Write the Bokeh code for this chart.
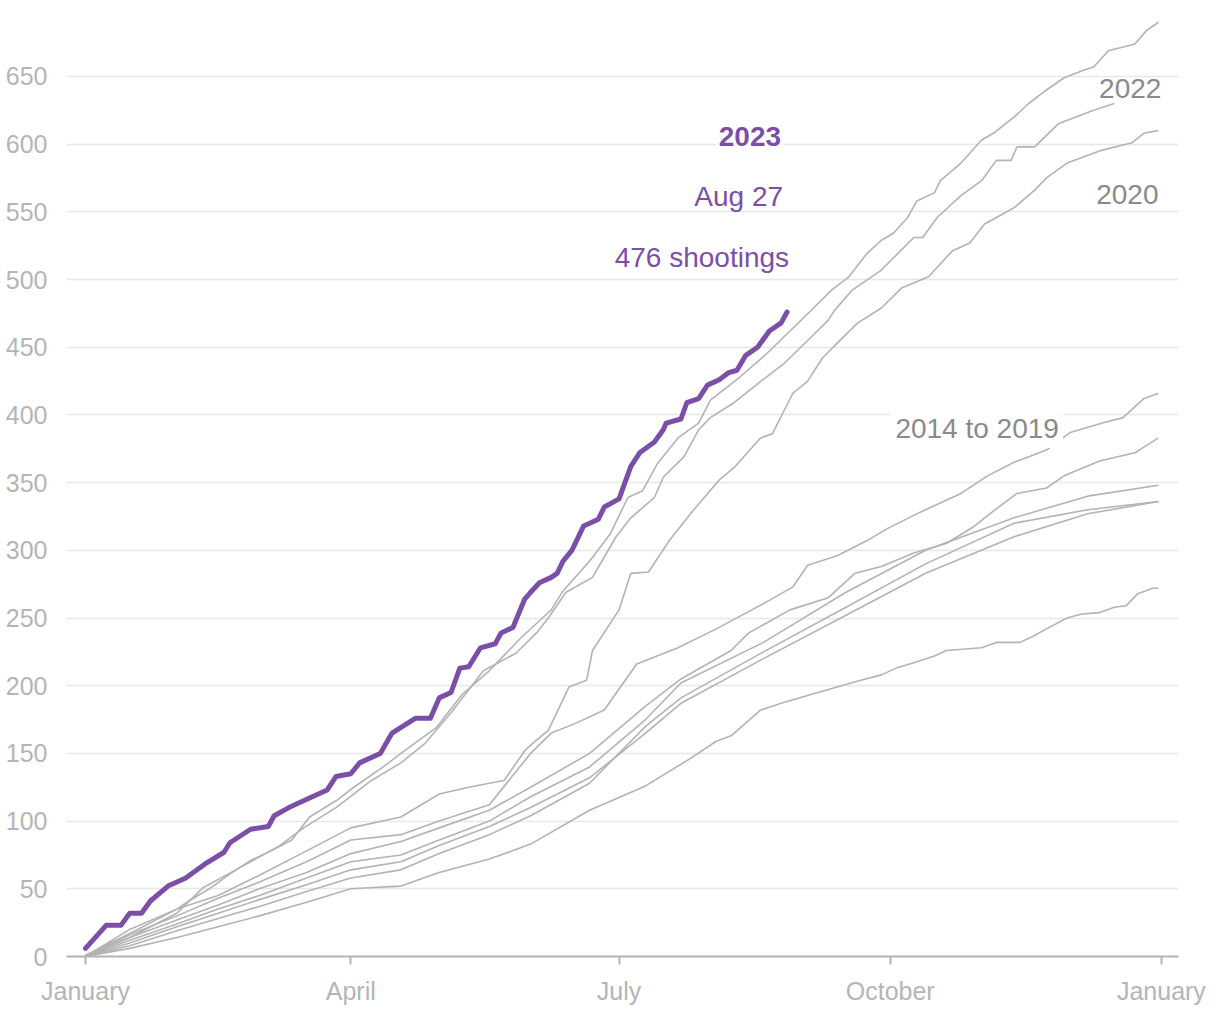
from bokeh.plotting import figure
from bokeh.models import Range1d, FixedTicker, Label
from bokeh.embed import file_html
from bokeh.resources import INLINE

# ---------------- data (day of year, cumulative mass shootings) ----------------
days_2023 = [0, 7, 12, 15, 19, 22, 28, 34, 41, 47, 49, 56, 62, 64, 69, 76, 82, 85, 90, 93, 100, 104, 112, 117, 120,
             124, 127, 130, 134, 139, 141, 145, 149, 151, 154, 158, 160, 162, 165, 169, 174, 176, 181, 185, 188,
             193, 196, 197, 202, 204, 208, 211, 215, 218, 221, 224, 228, 232, 236, 238]
vals_2023 = [6, 23, 23, 32, 32, 41, 52, 58, 69, 77, 84, 94, 96, 104, 110, 117, 123, 133, 135, 143, 150, 165, 176, 176, 191,
             195, 213, 214, 228, 231, 239, 243, 264, 269, 276, 280, 283, 292, 300, 318, 323, 332, 338, 362, 372,
             380, 389, 394, 397, 409, 412, 422, 426, 431, 433, 444, 450, 462, 468, 476]

days_2021 = [0, 15, 31, 35, 42, 49, 56, 63, 70, 76, 85, 91, 101, 107, 119, 128, 137, 148, 154, 158, 162, 171, 178, 184,
             189, 194, 201, 208, 212, 222, 231, 239, 247, 253, 259, 265, 270, 274, 279, 282, 288, 290, 297, 304, 308,
             315, 320, 326, 332, 339, 342, 347, 356, 360, 364]
vals_2021 = [1, 17, 35, 41, 50, 61, 71, 78, 86, 103, 115, 125, 140, 150, 169, 194, 211, 236, 248, 256, 270, 292, 312, 339,
             344, 364, 383, 394, 411, 428, 445, 462, 479, 492, 502, 519, 529, 534, 546, 558, 564, 573, 586, 603, 608,
             620, 630, 640, 649, 655, 657, 669, 674, 684, 690]

days_2022 = [0, 15, 31, 40, 51, 66, 74, 85, 97, 107, 115, 124, 135, 146, 153, 157, 163, 172, 180, 185, 193, 196, 203,
             208, 212, 220, 228, 237, 245, 252, 254, 260, 270, 281, 284, 289, 297, 304, 309, 314, 316, 322, 330, 342, 349]
vals_2022 = [1, 14, 32, 51, 64, 82, 95, 110, 130, 143, 157, 180, 211, 224, 239, 250, 269, 280, 310, 324, 339, 354, 369,
             389, 398, 409, 423, 438, 455, 470, 477, 492, 507, 531, 531, 546, 562, 573, 588, 588, 598, 598, 615, 625, 630]

days_2020 = [0, 15, 31, 45, 59, 75, 90, 107, 120, 130, 142, 149, 152, 157, 164, 170, 172, 181, 185, 191, 198, 206, 215,
             220, 229, 233, 240, 245, 250, 255, 262, 270, 277, 286, 294, 300, 305, 315, 322, 326, 333, 344, 355, 359, 364]
vals_2020 = [0, 20, 35, 45, 60, 78, 95, 103, 120, 125, 130, 152, 158, 167, 199, 204, 226, 256, 283, 284, 307, 329, 352,
             361, 383, 386, 416, 425, 442, 453, 468, 479, 494, 502, 521, 527, 541, 553, 566, 575, 586, 595, 601, 608, 610]

days_2019 = [0, 15, 31, 45, 59, 75, 90, 107, 120, 137, 151, 158, 166, 176, 187, 201, 214, 232, 240, 245, 255, 265, 272,
             283, 297, 306, 315, 326, 334, 345, 352, 359, 364]
vals_2019 = [0, 16, 30, 43, 55, 70, 86, 90, 100, 112, 150, 165, 172, 182, 216, 228, 242, 263, 273, 289, 296, 307, 316,
             328, 342, 355, 365, 374, 387, 394, 398, 412, 416]

days_2018 = [0, 15, 31, 45, 59, 75, 90, 107, 120, 137, 151, 171, 190, 202, 230, 258, 285, 315, 340, 364]
vals_2018 = [0, 10, 22, 32, 42, 53, 64, 70, 82, 96, 110, 132, 165, 187, 220, 252, 283, 310, 327, 336]

days_2017 = [0, 15, 31, 45, 59, 75, 90, 107, 120, 137, 151, 171, 190, 202, 230, 258, 285, 315, 340, 364]
vals_2017 = [0, 12, 24, 35, 45, 58, 70, 75, 86, 100, 118, 140, 175, 202, 232, 269, 300, 324, 340, 348]

days_2016 = [0, 15, 31, 45, 59, 75, 90, 107, 120, 137, 151, 171, 190, 202, 219, 225, 239, 252, 261, 270, 281, 292, 301,
             308, 316, 326, 332, 344, 356, 364]
vals_2016 = [0, 14, 27, 38, 50, 62, 76, 85, 95, 108, 125, 150, 185, 205, 226, 239, 256, 265, 283, 288, 298, 305, 317,
             329, 342, 346, 355, 366, 372, 383]

days_2015 = [0, 15, 31, 45, 59, 75, 90, 107, 120, 137, 151, 171, 190, 202, 230, 258, 285, 315, 340, 364]
vals_2015 = [0, 8, 19, 28, 37, 48, 58, 64, 76, 90, 104, 128, 170, 191, 225, 258, 290, 320, 330, 336]

days_2014 = [0, 15, 31, 45, 59, 75, 90, 107, 120, 137, 151, 171, 190, 205, 214, 219, 229, 236, 247, 255, 263, 270, 275,
             281, 288, 292, 304, 309, 317, 321, 326, 333, 338, 344, 349, 353, 357, 362, 364]
vals_2014 = [0, 6, 14, 22, 30, 40, 50, 52, 62, 72, 83, 108, 126, 146, 159, 163, 182, 187, 194, 199, 204, 208, 213,
             217, 222, 226, 228, 232, 232, 236, 242, 250, 253, 254, 258, 259, 268, 272, 272]

gray_years = {
    "2014": (days_2014, vals_2014), "2015": (days_2015, vals_2015), "2016": (days_2016, vals_2016),
    "2017": (days_2017, vals_2017), "2018": (days_2018, vals_2018), "2019": (days_2019, vals_2019),
    "2020": (days_2020, vals_2020), "2021": (days_2021, vals_2021), "2022": (days_2022, vals_2022),
}

month_ticks = [0, 90, 181, 273, 365]
month_labels = ["January", "April", "July", "October", "January"]
y_ticks = list(range(0, 651, 50))

PURPLE = "#7b4fa8"
GRAY_LINE = "#b3b3b3"
GRAY_TEXT = "#8a8a8a"
TICK_TEXT = "#b5b5b5"
FONT = "Liberation Sans"

p = figure(width=1212, height=1012, x_range=Range1d(-6.45, 370.8), y_range=Range1d(0, 695),
           output_backend="svg", toolbar_location=None,
           min_border_left=66, min_border_right=34, min_border_top=15, min_border_bottom=56)
p.outline_line_color = None
p.background_fill_color = "white"
p.xgrid.visible = False
p.ygrid.grid_line_color = "#e8e8e8"
p.ygrid.grid_line_width = 1.5

p.yaxis.ticker = FixedTicker(ticks=y_ticks)
p.yaxis.axis_line_color = None
p.yaxis.major_tick_line_color = None
p.yaxis.minor_tick_line_color = None
p.yaxis.major_label_standoff = 13
p.yaxis.major_label_text_font = FONT
p.yaxis.major_label_text_font_size = "25px"
p.yaxis.major_label_text_color = TICK_TEXT

p.xaxis.ticker = FixedTicker(ticks=month_ticks)
p.xaxis.major_label_overrides = {t: l for t, l in zip(month_ticks, month_labels)}
p.xaxis.axis_line_color = GRAY_LINE
p.xaxis.axis_line_width = 2
p.xaxis.major_tick_line_color = GRAY_LINE
p.xaxis.major_tick_line_width = 2
p.xaxis.major_tick_in = 0
p.xaxis.major_tick_out = 8
p.xaxis.minor_tick_line_color = None
p.xaxis.major_label_standoff = 12
p.xaxis.major_label_text_font = FONT
p.xaxis.major_label_text_font_size = "25px"
p.xaxis.major_label_text_color = TICK_TEXT

for yr, (d, v) in gray_years.items():
    p.line(d, v, line_color=GRAY_LINE, line_width=1.6, line_join="round")

p.line(days_2023, vals_2023, line_color=PURPLE, line_width=5, line_join="round", line_cap="round")

# ---------------- annotations ----------------
end_day = days_2023[-1]
labels = [
    Label(x=end_day, y=606, text="2023", x_offset=-3, text_font_style="bold", text_color=PURPLE,
          text_align="right", background_fill_color="white", padding=3),
    Label(x=end_day, y=561, text="Aug 27", x_offset=-4, text_color=PURPLE, text_align="right"),
    Label(x=end_day, y=516, text=f"{vals_2023[-1]} shootings", x_offset=2, text_color=PURPLE, text_align="right"),
    Label(x=month_ticks[-1], y=641, text="2022", text_color=GRAY_TEXT, text_align="right"),
    Label(x=days_2020[-1], y=563, text="2020", text_color=GRAY_TEXT, text_align="right"),
    Label(x=273.4, y=390, text="2014 to 2019", text_color=GRAY_TEXT, text_align="left",
          background_fill_color="white", padding=4),
]
for lab in labels:
    lab.text_font = FONT
    lab.text_font_size = "28px"
    lab.text_baseline = "middle"
    p.add_layout(lab)

open("out.html", "w").write(file_html(p, INLINE))
